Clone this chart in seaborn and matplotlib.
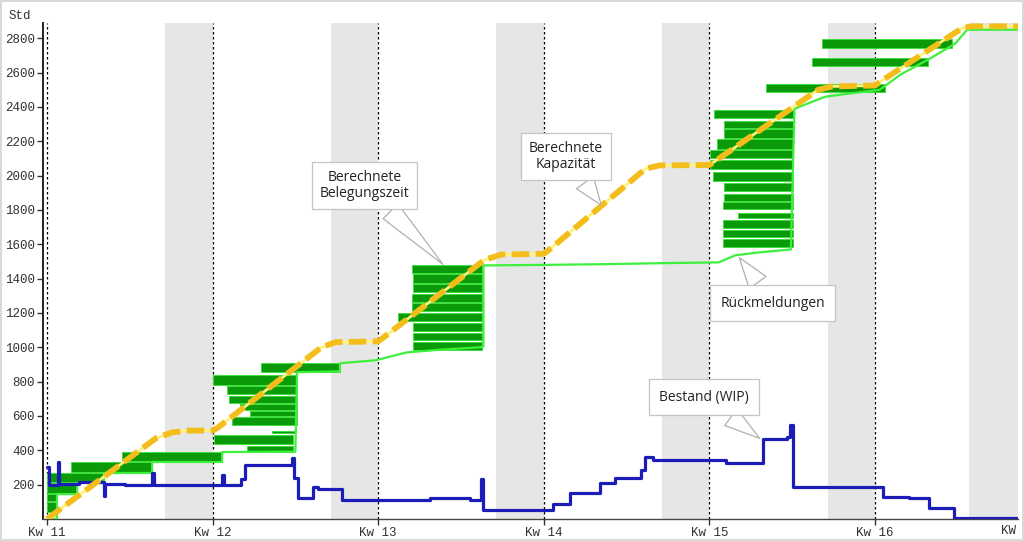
import seaborn as sns
import matplotlib.pyplot as plt
import pandas as pd
import numpy as np

# Zeitachse in Tagen, Tag 0 = Beginn Kw 11
wochen = ['Kw 11', 'Kw 12', 'Kw 13', 'Kw 14', 'Kw 15', 'Kw 16']
wochen_tag = [0, 7, 14, 21, 28, 35]
wochenende_von = [5, 12, 19, 26, 33, 39]
wochenende_bis = [7, 14, 21, 28, 35, 41.1]
y_ticks = [200, 400, 600, 800, 1000, 1200, 1400, 1600, 1800, 2000, 2200, 2400, 2600, 2800]

# Berechnete Kapazität (kumuliert, Std)
kap_tag = [0, 4.6, 5.3, 6, 7, 7.2, 11.6, 12.2, 14, 14.2, 18.5, 19.2, 21, 21.2, 25.3, 25.9,
           28, 28.2, 32.6, 33.2, 35, 35.2, 38.7, 39.1, 41.1]
kap_std = [0, 470, 505, 515, 515, 530, 1000, 1030, 1035, 1055, 1510, 1540, 1545, 1565, 2040, 2060,
           2062, 2080, 2500, 2520, 2525, 2545, 2860, 2870, 2870]

# Rückmeldungen (kumuliert, Std)
rm_tag = [0, 0.42, 0.42, 1.27, 1.27, 2.4, 2.4, 4.44, 4.44, 7.4, 7.4, 10.5, 10.57, 12.38, 12.38,
          13.9, 15.2, 16.5, 18.3, 18.45, 18.45, 20.8, 23.4, 25.9, 28.4, 29.1, 30.1, 31.45, 31.6,
          32.9, 33.9, 35.2, 36.1, 37.3, 38.4, 38.9, 41.1]
rm_std = [0, 0, 145, 145, 210, 210, 268, 268, 332, 332, 390, 392, 855, 860, 907,
          925, 970, 985, 1000, 1005, 1477, 1480, 1484, 1490, 1495, 1536, 1553, 1570, 2390,
          2460, 2478, 2500, 2590, 2680, 2770, 2850, 2850]

# Bestand (WIP), Stufen
wip_tag = [0, 0.1, 0.45, 0.52, 1.35, 2.4, 2.47, 3.3, 4.45, 4.52, 7.4, 7.47, 8.2, 8.35, 10.35,
           10.45, 10.6, 11.25, 11.45, 12.45, 16.2, 17.9, 18.35, 18.42, 21.4, 22.1, 23.4, 24.0,
           25.1, 25.3, 25.6, 28.7, 30.25, 31.3, 31.4, 31.52, 35.35, 36.45, 37.3, 38.35, 41.1]
wip_std = [300, 200, 330, 205, 215, 135, 205, 198, 268, 198, 256, 198, 235, 314, 355,
           240, 122, 186, 175, 110, 125, 110, 230, 52, 87, 151, 209, 238,
           285, 360, 343, 326, 465, 477, 547, 186, 128, 122, 64, 6, 6]

# Berechnete Belegungszeit: Aufträge (Start, Ende in Tagen; von/bis in Std)
auf_start = [3.17, 1.01, 0, 0, 0, 0,
             9.04, 7.02, 7.61, 7.69, 8.16, 8.58, 7.82, 9.51, 7.06, 8.45,
             15.43, 15.47, 15.47, 15.43, 15.43, 14.84, 15.47, 15.47, 15.47,
             28.19, 28.61, 28.61, 28.32, 28.02, 28.02, 28.15, 28.61, 28.61, 28.57, 29.21, 28.57, 28.57, 28.57,
             30.39, 32.33, 32.76]
auf_ende = [7.40, 4.44, 2.40, 1.27, 0.42, 0.42,
            12.38, 10.57, 10.57, 10.57, 10.57, 10.57, 10.57, 10.48, 10.40, 10.40,
            18.39, 18.39, 18.39, 18.39, 18.39, 18.39, 18.39, 18.39, 18.39,
            31.53, 31.53, 31.53, 31.53, 31.53, 31.53, 31.53, 31.53, 31.53, 31.53, 31.53, 31.53, 31.53, 31.53,
            35.42, 37.24, 38.25]
auf_von = [335, 273, 215, 151, 105, 40,
           855, 780, 727, 675, 634, 600, 547, 500, 436, 390,
           1431, 1373, 1320, 1262, 1210, 1152, 1094, 1041, 983,
           2333, 2275, 2222, 2158, 2100, 2036, 1966, 1908, 1850, 1803, 1751, 1693, 1640, 1582,
           2490, 2641, 2746]
auf_bis = [390, 332, 268, 210, 145, 100,
           907, 838, 774, 716, 669, 628, 593, 512, 489, 425,
           1477, 1425, 1367, 1309, 1257, 1198, 1140, 1082, 1030,
           2385, 2321, 2269, 2211, 2147, 2089, 2019, 1955, 1896, 1844, 1780, 1739, 1681, 1629,
           2536, 2688, 2798]

df_auf = pd.DataFrame({'start': auf_start, 'ende': auf_ende, 'von': auf_von, 'bis': auf_bis})
df_kap = pd.DataFrame({'Tag': kap_tag, 'Std': kap_std})
df_rm = pd.DataFrame({'Tag': rm_tag, 'Std': rm_std})
df_wip = pd.DataFrame({'Tag': wip_tag, 'Std': wip_std})

sns.set_style('white')
plt.rcParams['font.family'] = ['Open Sans', 'DejaVu Sans']

fig = plt.figure(figsize=(10.24, 5.41), dpi=100)
ax = fig.add_axes([0.042, 0.0407, 0.9521, 0.917])

# Wochenenden grau
for a, b in zip(wochenende_von, wochenende_bis):
    ax.axvspan(a, b, color='#e6e6e6', lw=0, zorder=0)

# Wochenbeginn gepunktet
for t in wochen_tag:
    ax.axvline(t, color='black', linestyle=(0, (2, 2)), lw=0.9, zorder=1)

# Balken der Belegungszeit
ax.barh(y=(df_auf['von'] + df_auf['bis']) / 2,
        width=df_auf['ende'] - df_auf['start'],
        left=df_auf['start'],
        height=df_auf['bis'] - df_auf['von'],
        color='#0a9a0a', edgecolor='#3ee03e', linewidth=0.7, zorder=2)

# Rückmeldungen
sns.lineplot(data=df_rm, x='Tag', y='Std', ax=ax, estimator=None, sort=False,
             color='#3cf03c', linewidth=1.6, zorder=3)

# Bestand
sns.lineplot(data=df_wip, x='Tag', y='Std', ax=ax, estimator=None, sort=False,
             color='#1c1cb8', linewidth=2.3, drawstyle='steps-post', zorder=4)

# Kapazität
sns.lineplot(data=df_kap, x='Tag', y='Std', ax=ax, estimator=None, sort=False,
             color='#fff27a', linewidth=2.0, zorder=5)
sns.lineplot(data=df_kap, x='Tag', y='Std', ax=ax, estimator=None, sort=False,
             color='#f3bd1c', linewidth=4.2, linestyle=(0, (3, 1.1)), zorder=6)

ax.set_xlim(-0.17, 41.05)
ax.set_ylim(0, 2890)
ax.set_xticks(wochen_tag)
ax.set_xticklabels(wochen, fontfamily='Liberation Mono', fontsize=9)
ax.set_yticks(y_ticks)
ax.set_yticklabels([str(v) for v in y_ticks], fontfamily='Liberation Mono', fontsize=9)
ax.set_xlabel('')
ax.set_ylabel('')
ax.tick_params(axis='both', direction='out', length=4, width=1, color='#333333',
               labelcolor='#333333', pad=2, left=True, bottom=True)

for s in ['top', 'right']:
    ax.spines[s].set_visible(False)
ax.spines['left'].set_color('#222222')
ax.spines['left'].set_linewidth(1.4)
ax.spines['bottom'].set_color('#444444')
ax.spines['bottom'].set_linewidth(1.0)

fig.text(0.008, 0.982, 'Std', fontsize=9, family='Liberation Mono', color='#333333', va='top')
ax.text(0.99, -0.012, 'KW', transform=ax.transAxes, fontsize=9, family='Liberation Mono',
        color='#333333', ha='center', va='top')

# Beschriftungen als Sprechblasen
blasen = [('Berechnete\nBelegungszeit', (16.82, 1472), (13.44, 1943)),
          ('Berechnete\nKapazität', (23.5, 1815), (21.94, 2112)),
          ('Rückmeldungen', (29.2, 1536), (30.68, 1257)),
          ('Bestand (WIP)', (30.22, 460), (27.77, 710))]
for txt, tip, box in blasen:
    pad = 0.55 if '\n' in txt else 0.75
    ax.annotate(txt, xy=tip, xytext=box, textcoords='data', ha='center', va='center',
                fontsize=10, color='#222222', linespacing=1.15, zorder=10,
                bbox=dict(boxstyle=f'square,pad={pad}', fc='white', ec='#c4c4c4', lw=0.9),
                arrowprops=dict(arrowstyle='wedge,tail_width=1.5,shrink_factor=0.5',
                                fc='white', ec='#b0b0b0', lw=0.9))

fig.patch.set_edgecolor('#d8d8d8')
fig.patch.set_linewidth(1.5)

plt.savefig('out.png', dpi=100, edgecolor=fig.get_edgecolor())
plt.close()
